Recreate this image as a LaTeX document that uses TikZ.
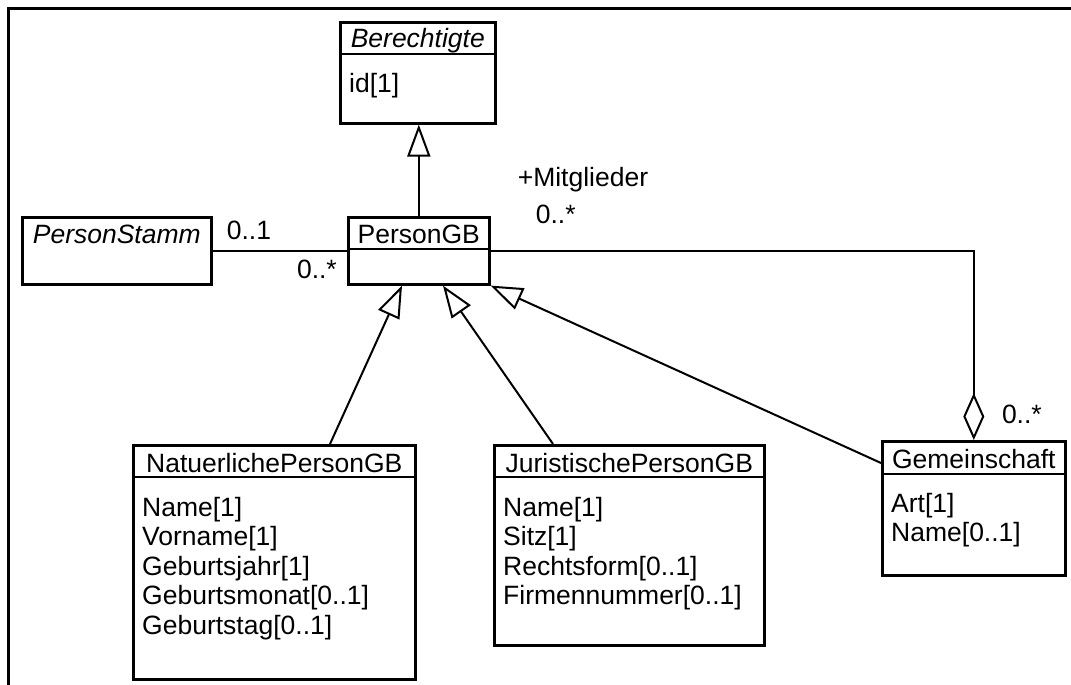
\documentclass[tikz,border=0pt]{standalone}
\usepackage{fontspec}
\setmainfont{Liberation Sans}
\usetikzlibrary{arrows.meta,positioning,calc}

\tikzset{
  umlfont/.style={font=\fontsize{26.5}{29.5}\selectfont},
  klasse/.style={draw,line width=2.6pt,anchor=north west,inner sep=0pt},
  kopf/.style={umlfont,anchor=base,inner sep=0pt},
  attribute/.style={umlfont,anchor=north west,align=left,inner sep=0pt},
  trenner/.style={line width=2pt},
  linie/.style={line width=2pt},
  erbt/.style={linie,-{Triangle[open,length=32pt,width=23pt]}},
  aggregat/.style={linie,-{Diamond[open,length=47pt,width=21pt]}},
  mult/.style={umlfont,anchor=base west,inner sep=0pt},
}

\begin{document}
\begin{tikzpicture}[x=1pt,y=1pt]
  \useasboundingbox (0,0) rectangle (1071,-685);
  % Rahmen
  \draw[line width=3pt] (8,-685) -- (8,-9) -- (1071,-9);

  % Klassen
  \node[klasse,minimum width=155,minimum height=101] (berechtigte) at (339,-21) {};
  \node[kopf] (berechtigteName) at ($(berechtigte.north)+(0,-27)$) {\textit{Berechtigte}};
  \draw[trenner] ($(berechtigte.north west)+(0,-33)$) -- ($(berechtigte.north east)+(0,-33)$);
  \node[attribute] (berechtigteAttr) at ($(berechtigte.north west)+(10,-52)$) {id[1]};

  \node[klasse,minimum width=189,minimum height=67] (personStamm) at (21,-216) {};
  \node[kopf] (personStammName) at ($(personStamm.north)+(0,-27)$) {\textit{PersonStamm}};

  \node[klasse,minimum width=141,minimum height=67] (personGB) at (347,-216) {};
  \node[kopf] (personGBName) at ($(personGB.north)+(0,-27)$) {PersonGB};
  \draw[trenner] ($(personGB.north west)+(0,-33)$) -- ($(personGB.north east)+(0,-33)$);

  \node[klasse,minimum width=282,minimum height=234] (natuerlich) at (132,-444) {};
  \node[kopf] (natuerlichName) at ($(natuerlich.north)+(0,-28)$) {NatuerlichePersonGB};
  \draw[trenner] ($(natuerlich.north west)+(0,-33)$) -- ($(natuerlich.north east)+(0,-33)$);
  \node[attribute] (natuerlichAttr) at ($(natuerlich.north west)+(10,-53)$)
    {Name[1]\\Vorname[1]\\Geburtsjahr[1]\\Geburtsmonat[0..1]\\Geburtstag[0..1]};

  \node[klasse,minimum width=270,minimum height=200] (juristisch) at (493,-444) {};
  \node[kopf] (juristischName) at ($(juristisch.north)+(0,-28)$) {JuristischePersonGB};
  \draw[trenner] ($(juristisch.north west)+(0,-33)$) -- ($(juristisch.north east)+(0,-33)$);
  \node[attribute] (juristischAttr) at ($(juristisch.north west)+(10,-53)$)
    {Name[1]\\Sitz[1]\\Rechtsform[0..1]\\Firmennummer[0..1]};

  \node[klasse,minimum width=183,minimum height=134] (gemeinschaft) at (881,-440) {};
  \node[kopf] (gemeinschaftName) at ($(gemeinschaft.north)+(0,-28)$) {Gemeinschaft};
  \draw[trenner] ($(gemeinschaft.north west)+(0,-34)$) -- ($(gemeinschaft.north east)+(0,-34)$);
  \node[attribute] (gemeinschaftAttr) at ($(gemeinschaft.north west)+(10,-53)$)
    {Art[1]\\Name[0..1]};

  % Beziehungen
  \draw[erbt] (personGB.north) -- (personGB.north |- berechtigte.south);
  \draw[erbt] ($(natuerlich.north west)+(198,0)$) -- ($(personGB.south west)+(55,0)$);
  \draw[erbt] ($(juristisch.north west)+(60,0)$) -- ($(personGB.south west)+(96,0)$);
  \draw[erbt] ($(gemeinschaft.north west)+(0,-23)$) -- (personGB.south east);
  \draw[linie] (personStamm.east) -- (personGB.west);
  \draw[aggregat] (personGB.east) -| (gemeinschaft.north);

  % Multiplizitaeten
  \node[mult] (stammMult) at ($(personStamm.east)+(14,11)$) {0..1};
  \node[mult,anchor=base east] (gbMult) at ($(personGB.west)+(-10,-28)$) {0..*};
  \node[mult] (mitglieder) at ($(personGB.east)+(27,64)$) {+Mitglieder};
  \node[mult] (mitgliederMult) at ($(personGB.east)+(45,27.5)$) {0..*};
  \node[mult] (gemeinschaftMult) at ($(gemeinschaft.north)+(28,17)$) {0..*};
\end{tikzpicture}
\end{document}
